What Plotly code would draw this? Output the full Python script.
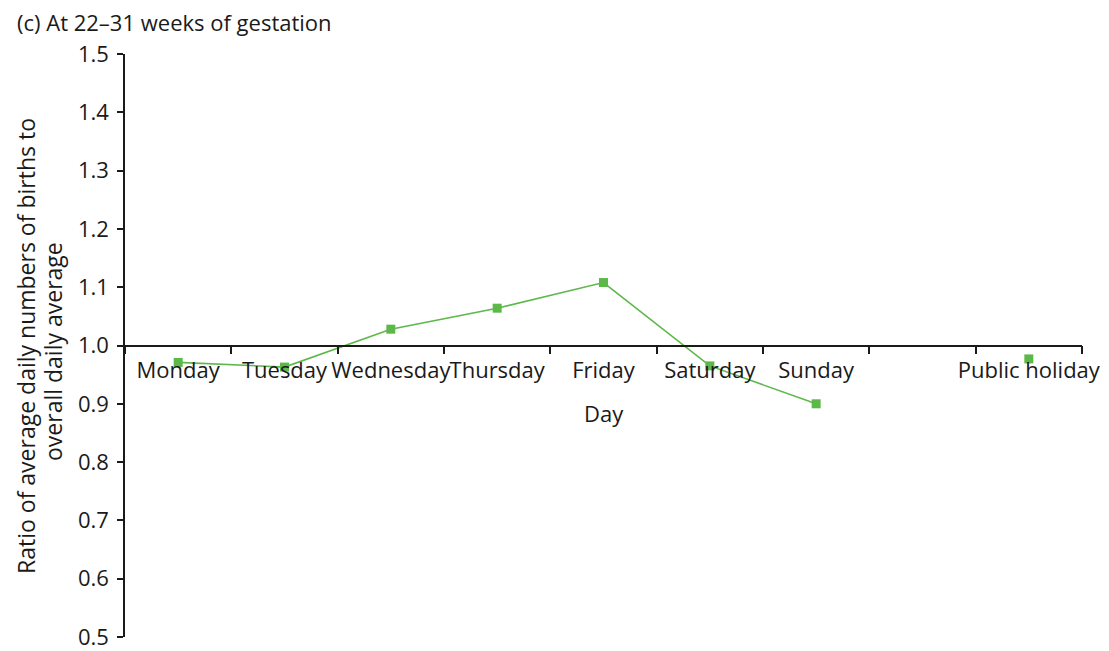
import plotly.graph_objects as go

days = ["Monday", "Tuesday", "Wednesday", "Thursday", "Friday", "Saturday", "Sunday", "", "Public holiday"]
ratio = [0.971, 0.963, 1.028, 1.064, 1.108, 0.965, 0.900, None, 0.977]
y_ticks = [0.5, 0.6, 0.7, 0.8, 0.9, 1.0, 1.1, 1.2, 1.3, 1.4, 1.5]

xs = list(range(len(days)))
green = "#5db84a"
font = "Open Sans"
fs = 22

fig = go.Figure()
fig.add_trace(go.Scatter(
    x=xs, y=ratio, mode="lines+markers",
    line=dict(color=green, width=1.6),
    marker=dict(symbol="square", size=9, color=green),
    connectgaps=False, showlegend=False, hoverinfo="skip",
))

# page body has an 8px default margin, so the figure is shrunk by 8px
W, H = 1101, 643
L, R, T, B = 117, 27, 46, 14
pw = W - L - R
ph = H - T - B


def px(xp):
    return (xp - L) / pw


def py(yp):
    return (H - B - yp) / ph


fig.update_layout(
    width=W, height=H,
    margin=dict(l=L, r=R, t=T, b=B, autoexpand=False),
    plot_bgcolor="white", paper_bgcolor="white",
    font=dict(family=font, size=fs, color="#1a1a1a"),
    xaxis=dict(
        range=[-0.5, len(days) - 0.5],
        tickmode="array", tickvals=xs, ticktext=days, tickangle=0,
        ticks="", ticklen=0, automargin=False,
        showgrid=False, zeroline=False,
        showline=True, linecolor="#1a1a1a", linewidth=1.5,
        anchor="free", position=0.5,
        ticklabelstandoff=5,
        minor=dict(tick0=0.5, dtick=1, ticks="outside", ticklen=8, tickcolor="#1a1a1a", tickwidth=1.5, showgrid=False),
    ),
    yaxis=dict(
        range=[0.5, 1.5], domain=[0, 1], automargin=False,
        tickmode="array", tickvals=y_ticks, ticktext=[f"{v:.1f}" for v in y_ticks],
        ticks="outside", ticklen=6, tickcolor="#1a1a1a", tickwidth=1.5,
        ticklabelstandoff=4,
        showgrid=False, zeroline=False,
        showline=True, linecolor="#1a1a1a", linewidth=1.5,
    ),
    annotations=[
        dict(text="(c) At 22–31 weeks of gestation", xref="paper", yref="paper",
             x=px(7), y=py(14), xanchor="left", yanchor="middle",
             showarrow=False, font=dict(size=fs)),
        dict(text="Day", xref="x", yref="paper", x=4, y=py(405),
             xanchor="center", yanchor="middle", showarrow=False, font=dict(size=fs)),
        dict(text="Ratio of average daily numbers of births to",
             xref="paper", yref="paper", x=px(18), y=py(338),
             xanchor="center", yanchor="middle", textangle=-90, showarrow=False,
             font=dict(size=23)),
        dict(text="overall daily average",
             xref="paper", yref="paper", x=px(45), y=py(344),
             xanchor="center", yanchor="middle", textangle=-90, showarrow=False,
             font=dict(size=23)),
    ],
)

fig.write_html("out.html")
